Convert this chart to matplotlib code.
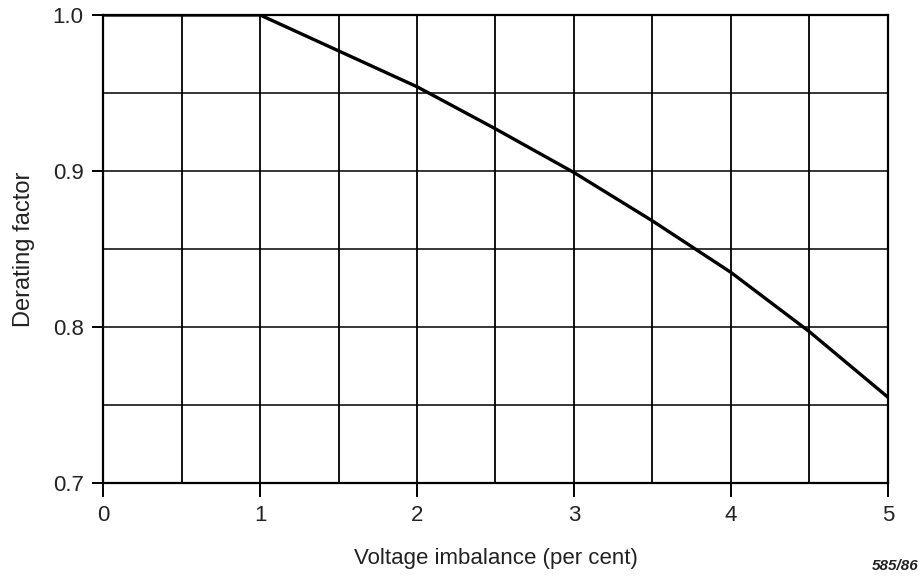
import numpy as np
import matplotlib.pyplot as plt

# Values
imbalance = [0, 0.5, 1.0, 1.5, 2.0, 2.5, 3.0, 3.5, 4.0, 4.5, 5.0]
derating = [1.0, 1.0, 1.0, 0.977, 0.954, 0.927, 0.899, 0.868, 0.835, 0.797, 0.755]

x_ticks = [0, 1, 2, 3, 4, 5]
y_ticks = [0.7, 0.8, 0.9, 1.0]

plt.rcParams['font.family'] = ['Liberation Sans', 'DejaVu Sans']

fig = plt.figure(figsize=(9.21, 5.76), dpi=100)
ax = fig.add_axes([0.112, 0.1615, 0.852, 0.8125])

# grid every 0.5 on x and 0.05 on y
for gx in np.arange(0.5, 5.0, 0.5):
    ax.axvline(gx, color='black', lw=1.3, zorder=1)
for gy in np.arange(0.75, 1.0, 0.05):
    ax.axhline(gy, color='black', lw=1.1, zorder=1)

ax.plot(imbalance, derating, color='black', lw=2.4, zorder=3)

ax.set_xlim(0, 5)
ax.set_ylim(0.7, 1.0)
ax.set_xticks(x_ticks)
ax.set_xticklabels([str(t) for t in x_ticks])
ax.set_yticks(y_ticks)
ax.set_yticklabels(['%.1f' % t for t in y_ticks])
ax.tick_params(axis='both', direction='out', width=1.4,
               labelsize=16, colors='black', labelcolor='#222222')
ax.tick_params(axis='x', length=10, pad=5.5)
ax.tick_params(axis='y', length=8, pad=6)

for s in ax.spines.values():
    s.set_linewidth(1.6)
    s.set_color('black')

ax.set_xlabel('Voltage imbalance (per cent)', fontsize=16, color='#222222', labelpad=16)
ax.set_ylabel('Derating factor', fontsize=17, color='#222222', labelpad=13)

fig.text(0.997, 0.005, '585/86', fontsize=11, fontweight='bold', fontstyle='italic',
         ha='right', va='bottom', color='#222222')

fig.savefig('out.png', dpi=100, facecolor='white')
